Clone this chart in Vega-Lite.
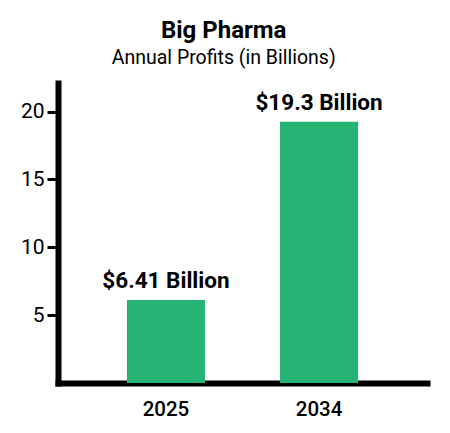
{
  "$schema": "https://vega.github.io/schema/vega-lite/v6.json",
  "autosize": "none",
  "padding": {"left": 58, "top": 83, "right": 23, "bottom": 50},
  "width": 369,
  "height": 300,
  "background": "white",
  "title": {
    "text": "Big Pharma",
    "subtitle": "Annual Profits (in Billions)",
    "anchor": "middle",
    "frame": "bounds",
    "font": "Roboto",
    "fontSize": 24,
    "fontWeight": "bold",
    "color": "black",
    "subtitleFont": "Roboto",
    "subtitleFontSize": 19.5,
    "subtitleColor": "black",
    "subtitlePadding": 6,
    "offset": 16
  },
  "data": {
    "values": [
      {"year": "2025", "profit": 6.12, "label": "$6.41 Billion"},
      {"year": "2034", "profit": 19.25, "label": "$19.3 Billion"}
    ]
  },
  "encoding": {
    "x": {
      "field": "year",
      "type": "nominal",
      "title": null,
      "scale": {"paddingInner": 0.49, "paddingOuter": 0.45},
      "axis": {
        "labelAngle": 0,
        "domainColor": "black",
        "domainWidth": 6,
        "domainCap": "square",
        "ticks": false,
        "labelPadding": 16,
        "labelFont": "Roboto",
        "labelFontSize": 20.5,
        "labelFontWeight": 500,
        "labelColor": "black"
      }
    },
    "y": {
      "field": "profit",
      "type": "quantitative",
      "title": null,
      "scale": {"domain": [0, 22.1], "nice": false},
      "axis": {
        "values": [5, 10, 15, 20],
        "grid": false,
        "domainColor": "black",
        "domainWidth": 6,
        "domainCap": "square",
        "tickColor": "black",
        "tickWidth": 3,
        "tickSize": 11,
        "labelPadding": 3,
        "labelFont": "Roboto",
        "labelFontSize": 21,
        "labelColor": "black"
      }
    }
  },
  "layer": [
    {"mark": {"type": "bar", "color": "#26B474"}},
    {
      "mark": {
        "type": "text",
        "font": "Roboto",
        "fontSize": 22.5,
        "fontWeight": "bold",
        "color": "black",
        "baseline": "bottom",
        "dy": -7
      },
      "encoding": {"text": {"field": "label"}}
    }
  ],
  "config": {"view": {"stroke": null}}
}
